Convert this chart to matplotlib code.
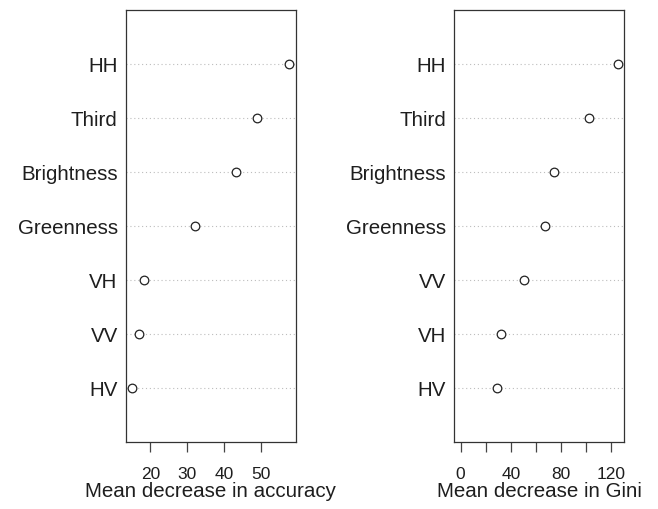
import matplotlib.pyplot as plt

plt.rcParams['font.family'] = ['Liberation Sans', 'DejaVu Sans']

# mean decrease in accuracy (top to bottom)
acc_vars = ['HH', 'Third', 'Brightness', 'Greenness', 'VH', 'VV', 'HV']
acc_vals = [57.6, 48.9, 43.2, 32.1, 18.4, 16.8, 15.1]

# mean decrease in Gini (top to bottom)
gini_vars = ['HH', 'Third', 'Brightness', 'Greenness', 'VV', 'VH', 'HV']
gini_vals = [125.3, 102.5, 74.3, 67.4, 50.7, 32.1, 28.7]

acc_ticks = [20, 30, 40, 50]
gini_ticks = [0, 20, 40, 60, 80, 100, 120]
gini_ticklabels = ['0', '', '40', '', '80', '', '120']

fig = plt.figure(figsize=(6.58, 5.1), dpi=100)
ax1 = fig.add_axes([0.1915, 0.132, 0.2579, 0.8465])
ax2 = fig.add_axes([0.6904, 0.132, 0.2584, 0.8465])


def dotchart(ax, names, vals, xmin, xlabel):
    n = len(names)
    ypos = list(range(n, 0, -1))
    for y in ypos:
        ax.axhline(y, color='#bdbdbd', linestyle=(0, (1, 2.5)), linewidth=0.8, zorder=1)
    ax.plot(vals, ypos, 'o', mfc='white', mec='#222222', mew=0.9, ms=6.2, zorder=3, clip_on=False)
    lo, hi = xmin, max(vals)
    pad = (hi - lo) * 0.04
    ax.set_xlim(lo - pad, hi + pad)
    ax.set_ylim(0, n + 1)
    ax.set_yticks(ypos)
    ax.set_yticklabels(names, fontsize=14.8, color='#1e1e1e')
    ax.tick_params(axis='y', length=0, pad=6)
    ax.tick_params(axis='x', length=7.5, width=0.9, color='#444444', pad=10,
                   labelsize=12.5, labelcolor='#1e1e1e')
    ax.set_xlabel(xlabel, fontsize=14.8, color='#1e1e1e', labelpad=0)
    for s in ax.spines.values():
        s.set_color('#333333')
        s.set_linewidth(0.9)


dotchart(ax1, acc_vars, acc_vals, min(acc_vals), 'Mean decrease in accuracy')
ax1.set_xticks(acc_ticks)

dotchart(ax2, gini_vars, gini_vals, 0, 'Mean decrease in Gini')
ax2.set_xticks(gini_ticks)
ax2.set_xticklabels(gini_ticklabels)

fig.savefig('out.png', dpi=100)
